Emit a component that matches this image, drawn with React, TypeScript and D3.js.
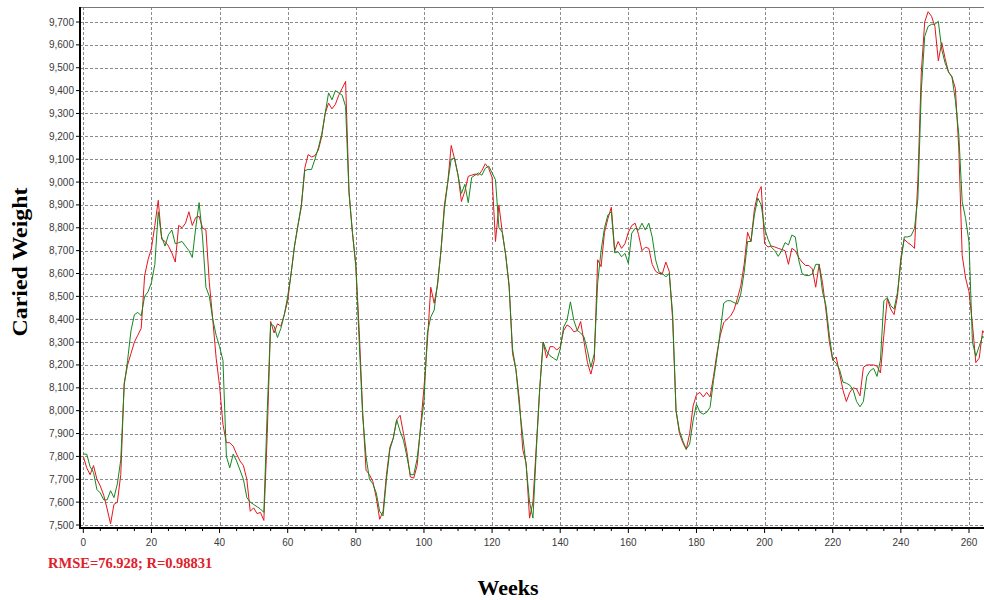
import React from "react";
import * as d3 from "d3";

// weekly values, week 0..265
const actual = [
  7800, 7750, 7720, 7760, 7700, 7670, 7630, 7570, 7505, 7590,
  7600, 7720, 8120, 8200, 8250, 8300, 8330, 8360, 8590, 8660,
  8710, 8810, 8920, 8750, 8740, 8720, 8690, 8650, 8810, 8800,
  8820, 8870, 8810, 8845, 8850, 8800, 8790, 8560, 8400, 8230,
  8110, 7940, 7860, 7860, 7845, 7810, 7780, 7760, 7700, 7560,
  7575, 7550, 7555, 7520, 7900, 8390, 8340, 8380, 8370, 8420,
  8480, 8600, 8720, 8810, 8890, 9060, 9120, 9110, 9115, 9140,
  9200, 9300, 9345, 9320, 9340, 9380, 9410, 9440, 8960, 8780,
  8640, 8350, 8000, 7740, 7720, 7690, 7620, 7525, 7560, 7720,
  7840, 7880, 7960, 7980, 7900, 7820, 7710, 7705, 7760, 7930,
  8100, 8300, 8540, 8470, 8550, 8700, 8900, 9000, 9160, 9100,
  9030, 8915, 8960, 9025, 9030, 9035, 9030, 9050, 9080, 9060,
  9020, 8740, 8900, 8780, 8680, 8550, 8250, 8180, 8050, 7830,
  7770, 7530, 7600, 7850, 8100, 8300, 8230, 8280, 8280, 8265,
  8280, 8350, 8375, 8365, 8345, 8350, 8390, 8300, 8210, 8160,
  8220, 8660, 8630, 8780, 8840, 8890, 8700, 8740, 8710, 8730,
  8780, 8810, 8820, 8770, 8700, 8715, 8710, 8640, 8610, 8600,
  8600, 8650, 8610, 8400, 8000, 7900, 7860, 7830, 7900, 8020,
  8070, 8080, 8060, 8080, 8060, 8150, 8250, 8330, 8385, 8400,
  8414, 8440, 8490, 8545, 8640, 8780, 8740, 8880, 8950, 8980,
  8730, 8716, 8720, 8716, 8710, 8705, 8700, 8640, 8710, 8700,
  8670, 8650, 8635, 8635, 8620, 8540, 8640, 8560, 8440, 8300,
  8220, 8235, 8165, 8090, 8040, 8080, 8100, 8095, 8065, 8190,
  8200, 8200, 8200, 8195, 8165, 8330, 8490, 8445, 8420, 8500,
  8670, 8750, 8735, 8725, 8710, 9010, 9480, 9700, 9745, 9725,
  9680, 9530, 9610, 9540, 9480, 9460, 9410, 9150, 8680, 8580,
  8520, 8380, 8210, 8230, 8350, 8330,
];

const predicted = [
  7810, 7810, 7755, 7730, 7655, 7640, 7610, 7610, 7650, 7620,
  7680, 7785, 8110, 8220, 8350, 8420, 8430, 8415, 8500, 8520,
  8560, 8640, 8870, 8760, 8720, 8770, 8790, 8730, 8735, 8740,
  8720, 8700, 8670, 8800, 8910, 8760, 8540, 8500, 8400, 8330,
  8280, 8220, 7800, 7750, 7810, 7780, 7740, 7700, 7620, 7600,
  7590, 7580, 7570, 7555, 8000, 8380, 8370, 8320, 8360, 8420,
  8500, 8600, 8720, 8810, 8900, 9050, 9055, 9055, 9100, 9150,
  9210, 9300, 9390, 9360, 9400, 9390, 9380, 9330, 8950, 8780,
  8630, 8300, 7980, 7800, 7700, 7680, 7640, 7560, 7540, 7700,
  7830, 7880, 7960, 7910, 7870, 7800, 7720, 7720, 7790, 7920,
  8040, 8340, 8410, 8440, 8560, 8700, 8880, 9000, 9100, 9105,
  9030, 8950, 8990, 8910, 9020, 9030, 9040, 9030, 9060, 9070,
  9040, 9010, 8800, 8780, 8680, 8540, 8270, 8180, 8020, 7890,
  7760, 7600, 7530, 7830, 8100, 8300, 8260, 8240, 8230, 8220,
  8270, 8366, 8395, 8476, 8395, 8351, 8340, 8322, 8263, 8190,
  8249, 8560, 8700, 8800, 8856, 8870, 8690, 8695, 8673, 8688,
  8644, 8776, 8798, 8790, 8820, 8790, 8820, 8760, 8660, 8607,
  8600, 8585, 8600, 8424, 8000, 7912, 7868, 7832, 7854, 7956,
  8029, 7993, 7985, 7993, 8015, 8132, 8234, 8350, 8470, 8481,
  8481, 8473, 8466, 8510, 8606, 8740, 8740, 8856, 8930, 8900,
  8797, 8750, 8715, 8700, 8675, 8700, 8735, 8725, 8768, 8760,
  8660, 8600, 8591, 8591, 8598, 8640, 8640, 8520, 8460, 8330,
  8223, 8208, 8180, 8125, 8120, 8112, 8090, 8040, 8017, 8040,
  8150, 8175, 8185, 8150, 8220, 8480, 8495, 8460, 8444, 8517,
  8650, 8760, 8760, 8765, 8797, 8930, 9400, 9637, 9681, 9690,
  9690, 9703, 9580, 9520, 9482, 9460, 9357, 9210, 8915, 8841,
  8738, 8300, 8238, 8282, 8326, 8310,
];

const yTicks = d3.range(7500, 9701, 100);
const xTicks = d3.range(0, 261, 20);
const xMinor = d3.range(0, 266, 5);

const W = 984;
const H = 600;
const left = 80;
const right = 984;
const top = 7;
const bottom = 528;

export default function App() {
  const x = d3.scaleLinear().domain([0, 260]).range([83.3, 969]);
  const y = d3.scaleLinear().domain([7500, 9700]).range([525, 22]);
  const fmt = d3.format(",");

  const line = d3
    .line<number>()
    .x((_, i) => x(i))
    .y((d) => y(d));

  return (
    <svg
      width={W}
      height={H}
      style={{ position: "absolute", left: 0, top: 0, background: "#fff" }}
    >
      <defs>
        <clipPath id="plot">
          <rect x={left} y={top} width={right - left} height={bottom - top} />
        </clipPath>
      </defs>
      <rect width={W} height={H} fill="#fff" />

      {/* grid */}
      <g stroke="#8a8a8a" strokeWidth={1} strokeDasharray="3,2">
        {yTicks.map((t) => (
          <line key={t} x1={left} x2={right} y1={Math.round(y(t)) + 0.5} y2={Math.round(y(t)) + 0.5} />
        ))}
        {xTicks.map((t) => (
          <line key={t} x1={Math.round(x(t)) + 0.5} x2={Math.round(x(t)) + 0.5} y1={top} y2={bottom} />
        ))}
      </g>

      {/* series */}
      <g clipPath="url(#plot)" fill="none" strokeWidth={1}>
        <path d={line(actual) ?? ""} stroke="#e8141c" />
        <path d={line(predicted) ?? ""} stroke="#14881e" />
      </g>

      {/* frame */}
      <line x1={left} x2={right} y1={top + 0.5} y2={top + 0.5} stroke="#777" />
      <line x1={left} x2={left} y1={top} y2={bottom + 1} stroke="#000" strokeWidth={2} />
      <line x1={left - 1} x2={right} y1={bottom} y2={bottom} stroke="#000" strokeWidth={2} />

      {/* ticks */}
      <g fontFamily="'Liberation Sans', Arial, sans-serif" fontSize={10} fill="#3a3a3a">
        {yTicks.map((t) => (
          <g key={t}>
            <line x1={left - 4} x2={left} y1={y(t)} y2={y(t)} stroke="#000" />
            <text x={left - 6} y={y(t)} dy="0.35em" textAnchor="end">
              {fmt(t)}
            </text>
          </g>
        ))}
        {xMinor.map((t) => (
          <line
            key={t}
            x1={x(t)}
            x2={x(t)}
            y1={bottom}
            y2={bottom + (t % 20 === 0 ? 5 : 3)}
            stroke="#000"
          />
        ))}
        {xTicks.map((t) => (
          <text key={t} x={x(t)} y={546} textAnchor="middle">
            {t}
          </text>
        ))}
      </g>

      <text
        x={48}
        y={568}
        fontFamily="'Liberation Serif', 'Times New Roman', serif"
        fontWeight="bold"
        fontSize={14.5}
        fill="#e0202a"
      >
        RMSE=76.928; R=0.98831
      </text>
      <text
        x={508}
        y={595}
        textAnchor="middle"
        fontFamily="'Liberation Serif', 'Times New Roman', serif"
        fontWeight="bold"
        fontSize={22}
        fill="#000"
      >
        Weeks
      </text>
      <text
        transform="translate(27,262) rotate(-90)"
        textAnchor="middle"
        fontFamily="'Liberation Serif', 'Times New Roman', serif"
        fontWeight="bold"
        fontSize={21}
        textLength={149}
        lengthAdjust="spacingAndGlyphs"
        fill="#000"
      >
        Caried Weight
      </text>
    </svg>
  );
}
